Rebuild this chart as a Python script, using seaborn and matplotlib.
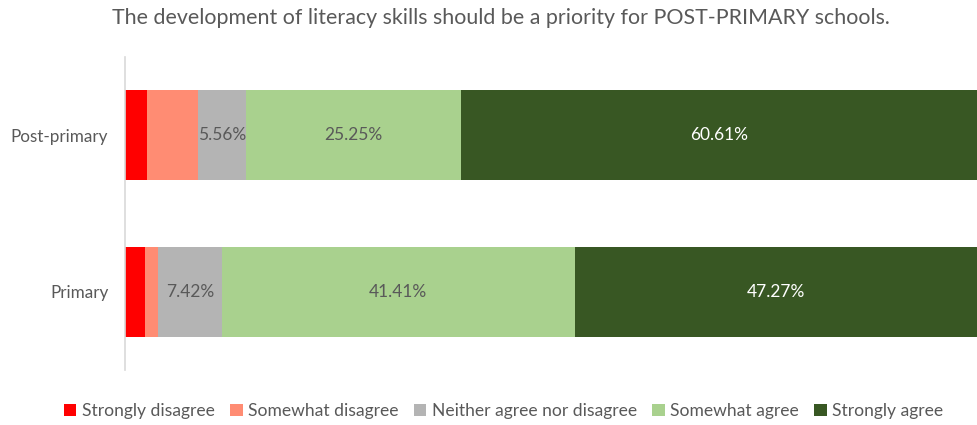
import matplotlib
matplotlib.use("Agg")
import matplotlib.pyplot as plt
from matplotlib.patches import Patch
import seaborn as sns
import pandas as pd
import numpy as np

title = "The development of literacy skills should be a priority for POST-PRIMARY schools."
groups = ["Post-primary", "Primary"]
responses = ["Strongly disagree", "Somewhat disagree", "Neither agree nor disagree",
             "Somewhat agree", "Strongly agree"]
strongly_disagree = [2.53, 2.34]
somewhat_disagree = [6.06, 1.56]
neither = [5.56, 7.42]
somewhat_agree = [25.25, 41.41]
strongly_agree = [60.61, 47.27]
colors = ["#FF0000", "#FF8C73", "#B4B4B4", "#A9D18E", "#385723"]
show_label = [False, False, True, True, True]
label_colors = ["#595959", "#595959", "#595959", "#595959", "#FFFFFF"]

series = [strongly_disagree, somewhat_disagree, neither, somewhat_agree, strongly_agree]
df = pd.DataFrame({r: v for r, v in zip(responses, series)}, index=groups)
cum = df.cumsum(axis=1)

sns.set_theme(style="white")
plt.rcParams["font.family"] = ["Lato", "DejaVu Sans"]

fig = plt.figure(figsize=(9.78, 4.25), dpi=100)
ax = fig.add_axes([125 / 978, 1 - 370 / 425, 1 - 125 / 978, 313 / 425])

# stacked bars: draw cumulative totals from the outermost segment inward
for i in range(len(responses) - 1, -1, -1):
    r = responses[i]
    sns.barplot(x=cum[r].values, y=groups, orient="h", color=colors[i],
                width=0.575, saturation=1, ax=ax, linewidth=0)

for i, r in enumerate(responses):
    if not show_label[i]:
        continue
    for j, g in enumerate(groups):
        val = df.loc[g, r]
        center = cum.loc[g, r] - val / 2
        ax.text(center, j, f"{val:.2f}%", ha="center", va="center",
                fontsize=12.5, color=label_colors[i])

ax.set_xlim(0, 100)
ax.set_ylim(1.5, -0.5)
ax.set_xlabel("")
ax.set_ylabel("")
ax.set_xticks([])
ax.tick_params(axis="y", length=0, labelsize=12.3, labelcolor="#595959", pad=12)
for s in ["top", "right", "bottom"]:
    ax.spines[s].set_visible(False)
ax.spines["left"].set_color("#D9D9D9")
ax.spines["left"].set_linewidth(1.2)

fig.text(0.512, 1 - 18 / 425, title, ha="center", va="center", fontsize=15.4, color="#595959")

handles = [Patch(facecolor=c, edgecolor="none", label=r) for c, r in zip(colors, responses)]
fig.legend(handles=handles, loc="center", bbox_to_anchor=(0.515, 1 - 411 / 425), ncol=5,
           frameon=False, fontsize=12.6, handlelength=0.7, handleheight=0.7,
           handletextpad=0.3, columnspacing=0.9, labelcolor="#595959")

fig.savefig("out.png", dpi=100)
